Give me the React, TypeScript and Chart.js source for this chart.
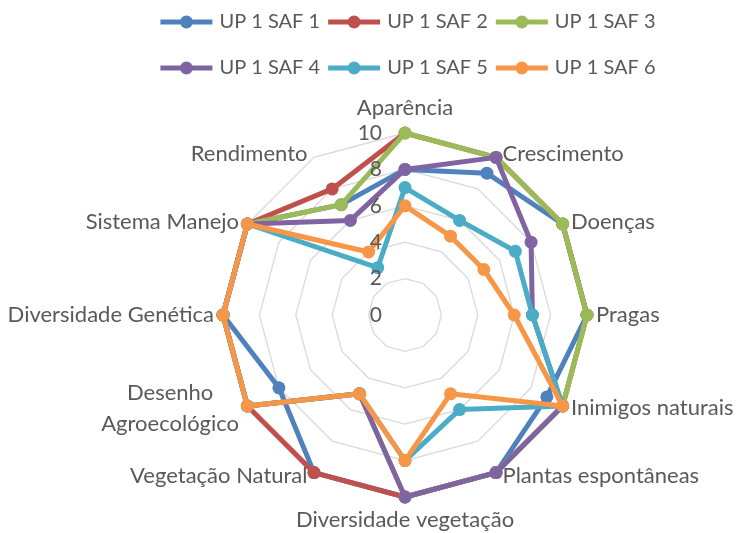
import React, { useEffect, useRef } from "react";
import { Chart, registerables } from "chart.js";

Chart.register(...registerables);

// ---- data ----
const categories: (string | string[])[] = [
  "Aparência",
  "Crescimento",
  "Doenças",
  "Pragas",
  "Inimigos naturais",
  "Plantas espontâneas",
  "Diversidade vegetação",
  "Vegetação Natural",
  ["Desenho", "Agroecológico"],
  "Diversidade Genética",
  "Sistema Manejo",
  "Rendimento",
];

const seriesNames = ["UP 1 SAF 1", "UP 1 SAF 2", "UP 1 SAF 3", "UP 1 SAF 4", "UP 1 SAF 5", "UP 1 SAF 6"];

const saf1 = [8, 9, 10, 10, 9, 10, 10, 10, 8, 10, 10, 7];
const saf2 = [10, 10, 10, 10, 10, 10, 10, 10, 10, 10, 10, 8];
const saf3 = [10, 10, 10, 10, 10, 10, 10, 5, 10, 10, 10, 7];
const saf4 = [8, 10, 8, 7, 10, 10, 10, 5, 10, 10, 10, 6];
const saf5 = [7, 6, 7, 7, 10, 6, 8, 5, 10, 10, 10, 3];
const saf6 = [6, 5, 5, 6, 10, 5, 8, 5, 10, 10, 10, 4];

const tickValues = [0, 2, 4, 6, 8, 10];

const seriesColors = ["#4F81BD", "#C0504D", "#9BBB59", "#8064A2", "#4BACC6", "#F79646"];

// ---- styles ----
const FONT = "Lato, 'Open Sans', sans-serif";
const LABEL_SIZE = 22;
const TICK_SIZE = 21;
const LEGEND_SIZE = 20;
const TEXT_COLOR = "#595959";
const LINE_W = 5;
const POINT_R = 6.5;

const excelPlugin = {
  id: "excelDecor",
  afterDraw(chart: any) {
    const ctx: CanvasRenderingContext2D = chart.ctx;
    const scale = chart.scales.r;
    const max = scale.max;
    ctx.save();
    ctx.font = `${LABEL_SIZE}px ${FONT}`;
    ctx.fillStyle = TEXT_COLOR;

    // point labels
    const labels = chart.data.labels as (string | string[])[];
    const n = labels.length;
    const lh = 31;
    labels.forEach((lab, i) => {
      const p = scale.getPointPositionForValue(i, max);
      const ang = (2 * Math.PI * i) / n;
      const s = Math.sin(ang);
      const c = Math.cos(ang);
      const lines = Array.isArray(lab) ? lab : [lab];
      ctx.textBaseline = "middle";
      if (Math.abs(s) < 0.01) {
        ctx.textAlign = "center";
        const y0 = c > 0 ? p.y - 25 - (lines.length - 1) * lh : p.y + 23;
        lines.forEach((t, k) => ctx.fillText(t, p.x, y0 + k * lh));
        return;
      }
      const xOff = 4 + 5 * Math.abs(s);
      const yc = p.y - c * 4;
      const widths = lines.map((t) => ctx.measureText(t).width);
      const maxW = Math.max(...widths);
      const startY = yc - ((lines.length - 1) * lh) / 2;
      ctx.textAlign = "center";
      lines.forEach((t, k) => {
        const y = startY + k * lh;
        const cx = s > 0 ? p.x + xOff + maxW / 2 : p.x - xOff - maxW / 2;
        ctx.fillText(t, cx, y);
      });
    });

    // tick labels
    ctx.font = `${TICK_SIZE}px ${FONT}`;
    ctx.textAlign = "right";
    ctx.textBaseline = "middle";
    tickValues.forEach((v) => {
      const y = scale.yCenter - scale.getDistanceFromCenterForValue(v);
      ctx.fillText(String(v), scale.xCenter - 23, y);
    });

    // legend (3 per row)
    ctx.font = `${LEGEND_SIZE}px ${FONT}`;
    const ds = chart.data.datasets;
    const lineLen = 52;
    const gap = 7;
    const itemGap = 8;
    const textW = Math.max(...ds.map((d: any) => ctx.measureText(d.label).width));
    const itemW = lineLen + gap + textW + itemGap;
    const perRow = 3;
    const rowYs = [22, 68];
    ctx.textAlign = "left";
    for (let r = 0; r < rowYs.length; r++) {
      const items = ds.slice(r * perRow, r * perRow + perRow);
      const rowW = items.length * itemW - itemGap;
      let x = scale.xCenter + 3 - rowW / 2;
      const y = rowYs[r];
      items.forEach((d: any) => {
        ctx.strokeStyle = d.borderColor;
        ctx.lineWidth = LINE_W;
        ctx.beginPath();
        ctx.moveTo(x, y);
        ctx.lineTo(x + lineLen, y);
        ctx.stroke();
        ctx.fillStyle = d.borderColor;
        ctx.beginPath();
        ctx.arc(x + lineLen / 2, y, POINT_R, 0, Math.PI * 2);
        ctx.fill();
        ctx.fillStyle = TEXT_COLOR;
        ctx.fillText(d.label, x + lineLen + gap, y);
        x += itemW;
      });
    }
    ctx.restore();
  },
};

export default function App() {
  const ref = useRef<HTMLCanvasElement | null>(null);
  useEffect(() => {
    document.body.style.margin = "0";
    const canvas = ref.current;
    if (!canvas) return;
    const all = [saf1, saf2, saf3, saf4, saf5, saf6];
    const chart = new Chart(canvas, {
      type: "radar",
      data: {
        labels: categories,
        datasets: all.map((d, i) => ({
          label: seriesNames[i],
          data: d,
          borderColor: seriesColors[i],
          backgroundColor: seriesColors[i],
          pointBackgroundColor: seriesColors[i],
          pointBorderColor: seriesColors[i],
          pointBorderWidth: 0,
          pointRadius: POINT_R,
          borderWidth: LINE_W,
          borderJoinStyle: "round",
          fill: false,
          order: all.length - 1 - i,
        })),
      },
      options: {
        responsive: false,
        animation: false,
        events: [],
        layout: { padding: { left: 223, right: 150, top: 133, bottom: 36 } },
        plugins: {
          legend: { display: false },
          tooltip: { enabled: false },
          title: { display: false },
        },
        scales: {
          r: {
            min: 0,
            max: 10,
            ticks: { stepSize: 2, display: false },
            pointLabels: { display: false },
            angleLines: { display: false },
            grid: { color: "#d9d9d9", lineWidth: 1.3 },
          },
        },
      },
      plugins: [excelPlugin],
    } as any);
    return () => chart.destroy();
  }, []);
  return <canvas ref={ref} width={737} height={533} style={{ display: "block" }} />;
}
